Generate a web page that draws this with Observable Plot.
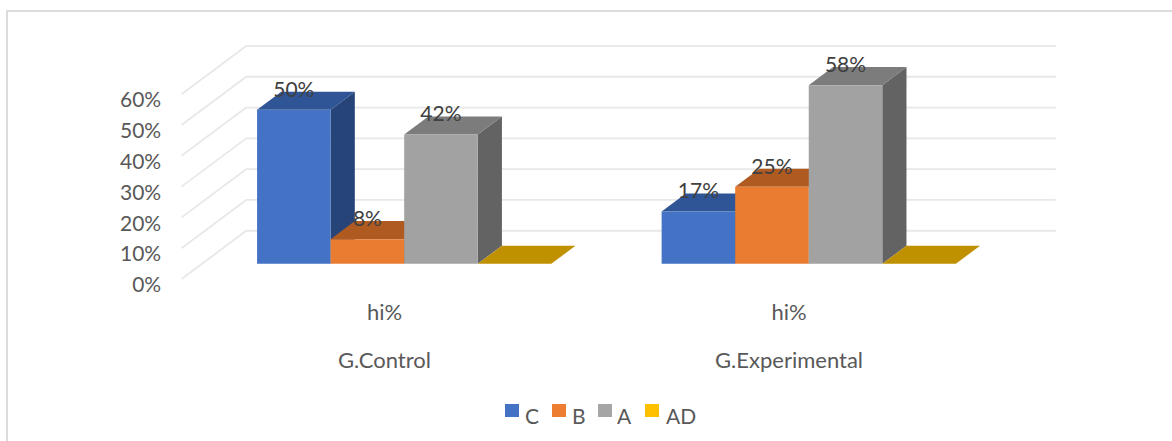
<!DOCTYPE html>
<html>
<head>
<meta charset="utf-8">
<style>
  html, body { margin: 0; padding: 0; background: #fff; overflow: hidden; }
  #page { position: relative; width: 1172px; height: 441px; overflow: hidden; font-family: Lato, sans-serif; }
  #frame { position: absolute; left: 6px; top: 10px; width: 1200px; height: 480px; border: 2px solid #dcdcdc; box-sizing: border-box; }
  #chart { position: absolute; left: 0; top: 0; }
  #legend { position: absolute; left: 0; top: 0; width: 1172px; height: 441px; pointer-events: none; }
  #legend span { position: absolute; font-size: 21px; color: #595959; line-height: 1; }
  #legend i { position: absolute; width: 14px; height: 13px; }
</style>
</head>
<body>
<div id="page">
  <div id="frame"></div>
  <div id="chart"></div>
  <div id="legend"></div>
</div>
<script src="https://cdn.jsdelivr.net/npm/d3@7"></script>
<script src="https://cdn.jsdelivr.net/npm/@observablehq/plot@0.6"></script>
<script>
// Grade distribution per group, in percent
const groups = ["G.Control", "G.Experimental"];
const subLabel = "hi%";
const series = ["C", "B", "A", "AD"];
const valuesC = [50, 17];
const valuesB = [8, 25];
const valuesA = [42, 58];
const valuesAD = [0, 0];
const seriesValues = [valuesC, valuesB, valuesA, valuesAD];

const frontColors = ["#4472c4", "#e97c30", "#a2a2a2", "#ffc000"];
const topColors = ["#2f5597", "#ae5a21", "#7c7c7c", "#bf9000"];
const sideColors = ["#264478", "#843c0c", "#636363", "#7f6000"];
const yTicks = [0, 10, 20, 30, 40, 50, 60];

// Oblique projection: depth z in [0, 1] shifts a point right and up
const depthX = 0.87;    // category-axis units at z = 1
const depthY = 15.5;    // percentage points at z = 1
const px = (x, z) => x + z * depthX;
const py = (y, z) => y + z * depthY;

// Category layout: four unit-wide bars plus a gap of 1.5 bars
const categoryWidth = 5.5;
const barStart = 0.75;
const zFront = 0.308;
const zBack = 0.686;
const floorWidth = categoryWidth * groups.length;

// Walls: each gridline runs along the side wall, then across the back wall
const gridRows = yTicks.flatMap((t) => [
  {t, x: px(0, 0), y: py(t, 0)},
  {t, x: px(0, 1), y: py(t, 1)},
  {t, x: px(floorWidth, 1), y: py(t, 1)}
]);

// Bar faces are listed left to right, so nearer bars cover what is behind them
const faces = [];
const labels = [];
groups.forEach((g, gi) => {
  series.forEach((s, si) => {
    const v = seriesValues[si][gi];
    const x0 = gi * categoryWidth + barStart + si;
    const x1 = x0 + 1;
    const poly = (name, color, pts) =>
      pts.forEach(([x, y, z]) => faces.push({id: `${g}-${s}-${name}`, color, x: px(x, z), y: py(y, z)}));
    if (v > 0) {
      poly("side", sideColors[si], [[x1, 0, zFront], [x1, 0, zBack], [x1, v, zBack], [x1, v, zFront]]);
    }
    poly("top", topColors[si], [[x0, v, zFront], [x1, v, zFront], [x1, v, zBack], [x0, v, zBack]]);
    if (v > 0) {
      poly("front", frontColors[si], [[x0, 0, zFront], [x1, 0, zFront], [x1, v, zFront], [x0, v, zFront]]);
      labels.push({x: px(x0 + 0.5, zFront), y: py(v, zFront), text: `${v}%`});
    }
  });
});

const groupRows = groups.map((g, i) => ({name: g, x: (i + 0.5) * categoryWidth}));

const chart = Plot.plot({
  width: 1172,
  height: 395,
  marginLeft: 181.7,
  marginRight: 181.2,
  marginTop: 93.2,
  marginBottom: 117,
  style: {background: "transparent", fontFamily: "Lato, sans-serif", overflow: "visible"},
  x: {domain: [0, floorWidth], axis: null},
  y: {domain: [0, 60], axis: null},
  color: {type: "identity"},
  marks: [
    Plot.line(gridRows, {x: "x", y: "y", z: "t", stroke: "#e8e8e8", strokeWidth: 1.8}),
    Plot.axisY(yTicks, {
      anchor: "left", tickSize: 0, tickPadding: 21, tickFormat: (d) => `${d}%`,
      fontSize: 21, fill: "#595959", dy: 7, label: null
    }),
    Plot.line(faces, {x: "x", y: "y", z: "id", fill: "color", stroke: "none", curve: "linear-closed"}),
    Plot.text(labels, {
      x: "x", y: "y", text: "text", dy: -20, fontSize: 21, fill: "#404040"
    }),
    Plot.text(groupRows, {
      x: "x", frameAnchor: "bottom", dy: 41, text: () => subLabel, fontSize: 22, fill: "#595959"
    }),
    Plot.text(groupRows, {
      x: "x", frameAnchor: "bottom", dy: 89, text: "name", fontSize: 22, fill: "#595959"
    })
  ]
});
document.getElementById("chart").append(chart);

// Legend row below the plot
const legend = document.getElementById("legend");
const legendSwatchColors = ["#4472c4", "#ed7d31", "#a5a5a5", "#ffc000"];
const swatchLeft = [505, 552, 598, 645];
const textLeft = [525, 572, 617, 666];
series.forEach((s, i) => {
  const sw = document.createElement("i");
  sw.style.left = swatchLeft[i] + "px";
  sw.style.top = "404px";
  sw.style.background = legendSwatchColors[i];
  legend.append(sw);
  const t = document.createElement("span");
  t.textContent = s;
  t.style.left = textLeft[i] + "px";
  t.style.top = "405px";
  legend.append(t);
});
</script>
</body>
</html>
